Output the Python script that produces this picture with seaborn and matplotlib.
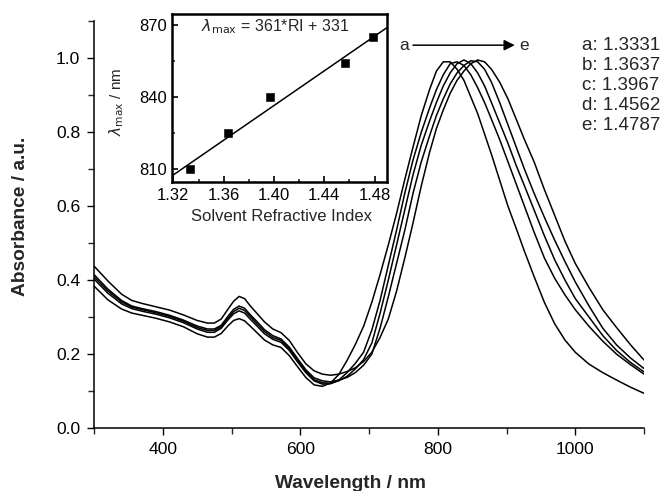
import numpy as np
import pandas as pd
import matplotlib
matplotlib.use("Agg")
import matplotlib.pyplot as plt
import seaborn as sns
from matplotlib.ticker import MultipleLocator, FormatStrFormatter

# spectra (absorbance, a.u.)
wavelength = [300, 320, 340, 355, 370, 390, 410, 430, 450, 465, 475, 485, 495,
              503, 511, 519, 527, 537, 548, 560, 572, 584, 596, 608, 620, 632, 644,
              656, 668, 680, 692, 704, 716, 728, 740, 752, 764, 776, 788, 798,
              808, 818, 828, 838, 848, 858, 868, 878, 890, 902, 914, 926, 940,
              955, 970, 985, 1000, 1020, 1040, 1060, 1080, 1100]

abs_a = [.384, .347, .322, .311, .305, .297, .287, .274, .255, .246, .246, .256, .277,
         .291, .296, .290, .276, .258, .238, .225, .218, .196, .166, .137, .117, .113, .122,
         .145, .183, .226, .275, .34, .415, .495, .58, .672, .76, .845, .915, .965,
         .99, .99, .97, .94, .895, .85, .795, .74, .67, .60, .54, .478, .41,
         .34, .282, .238, .205, .173, .15, .13, .111, .094]
abs_b = [.403, .365, .336, .323, .316, .308, .298, .285, .268, .259, .259, .270, .293,
         .309, .317, .311, .295, .276, .255, .240, .232, .210, .179, .150, .128, .119, .120,
         .13, .15, .175, .205, .265, .345, .44, .535, .635, .725, .80, .865, .915,
         .955, .985, .99, .98, .955, .92, .88, .835, .78, .72, .66, .60, .53,
         .46, .405, .36, .32, .275, .235, .20, .172, .146]
abs_c = [.409, .371, .341, .327, .320, .312, .302, .289, .272, .264, .264, .274, .298,
         .315, .324, .318, .302, .282, .261, .245, .237, .215, .184, .154, .131, .123, .121,
         .128, .14, .16, .185, .23, .31, .40, .495, .59, .685, .765, .83, .88,
         .925, .96, .985, .995, .985, .96, .925, .88, .825, .77, .71, .655, .59,
         .52, .455, .40, .35, .30, .25, .21, .178, .152]
abs_d = [.415, .376, .345, .330, .323, .315, .305, .292, .276, .268, .268, .278, .303,
         .321, .330, .324, .307, .288, .266, .250, .241, .219, .188, .158, .136, .128, .125,
         .13, .137, .15, .17, .20, .27, .355, .445, .535, .635, .72, .79, .845,
         .89, .93, .96, .98, .993, .99, .97, .935, .88, .82, .76, .70, .635,
         .57, .508, .45, .395, .33, .27, .225, .19, .161]
abs_e = [.438, .398, .362, .345, .337, .328, .319, .306, .291, .284, .284, .295, .322,
         .343, .356, .350, .331, .310, .287, .268, .258, .237, .204, .174, .155, .146, .143,
         .146, .153, .163, .18, .205, .245, .295, .37, .46, .555, .655, .745, .81,
         .86, .905, .94, .965, .985, .995, .99, .97, .935, .89, .835, .78, .72,
         .645, .575, .505, .445, .38, .32, .272, .226, .184]

sample_labels = ['a', 'b', 'c', 'd', 'e']
refractive_index = [1.3331, 1.3637, 1.3967, 1.4562, 1.4787]

# inset: peak position vs solvent refractive index
lambda_max = [810, 825, 840, 854, 865]
fit_slope = 361
fit_intercept = 331

rows = []
for lab, ys in zip(sample_labels, [abs_a, abs_b, abs_c, abs_d, abs_e]):
    for w, y in zip(wavelength, ys):
        rows.append({'wavelength': w, 'absorbance': y, 'sample': lab})
spectra = pd.DataFrame(rows)

sns.set_theme(style="ticks")
plt.rcParams['font.family'] = ['Liberation Sans', 'DejaVu Sans']
plt.rcParams['mathtext.fontset'] = 'dejavusans'

fig = plt.figure(figsize=(6.67, 4.91), dpi=100)
ax = fig.add_axes([0.141, 0.128, 0.8246, 0.829])

sns.lineplot(data=spectra, x='wavelength', y='absorbance', units='sample',
             estimator=None, color='black', linewidth=1.1, ax=ax)

ax.set_xlim(300, 1100)
ax.set_ylim(0, 1.1)
ax.xaxis.set_major_locator(MultipleLocator(200))
ax.xaxis.set_minor_locator(MultipleLocator(100))
ax.yaxis.set_major_locator(MultipleLocator(0.2))
ax.yaxis.set_minor_locator(MultipleLocator(0.1))
ax.yaxis.set_major_formatter(FormatStrFormatter('%.1f'))
ax.tick_params(which='major', direction='out', length=5, width=1, labelsize=12.6,
               colors='black', pad=5)
ax.tick_params(which='minor', direction='out', length=4, width=1)
sns.despine(ax=ax)
for s in ['left', 'bottom']:
    ax.spines[s].set_color('black')
    ax.spines[s].set_linewidth(1.1)

ax.set_xlabel('Wavelength / nm', fontsize=13.8, fontweight='bold')
ax.set_ylabel('Absorbance / a.u.', fontsize=13.8, fontweight='bold')
ax.xaxis.set_label_coords(0.467, -0.115)
ax.yaxis.set_label_coords(-0.118, 0.52)

# a -> e arrow
ax.text(751, 1.035, 'a', fontsize=12.5, ha='center', va='center')
ax.annotate('', xy=(912, 1.035), xytext=(764, 1.035),
            arrowprops=dict(arrowstyle='-|>', color='black', lw=1.1,
                            mutation_scale=16, shrinkA=0, shrinkB=0))
ax.text(918, 1.035, 'e', fontsize=12.5, ha='left', va='center')

legend_y = [1.035, 0.981, 0.927, 0.873, 0.819]
for lab, ri, yy in zip(sample_labels, refractive_index, legend_y):
    ax.text(1010, yy, f'{lab}: {ri:.4f}', fontsize=13.5, ha='left', va='center')

# inset
ins = fig.add_axes([0.258, 0.629, 0.3225, 0.3425])
sns.scatterplot(x=refractive_index, y=lambda_max, marker='s', s=28,
                color='black', edgecolor='black', ax=ins)
ri_line = np.array([1.319, 1.490])
sns.lineplot(x=ri_line, y=fit_slope * ri_line + fit_intercept, color='black',
             linewidth=1.1, ax=ins)
ins.set_xlim(1.319, 1.490)
ins.set_ylim(804.5, 874.5)
ins.xaxis.set_major_locator(MultipleLocator(0.04))
ins.xaxis.set_minor_locator(MultipleLocator(0.02))
ins.xaxis.set_major_formatter(FormatStrFormatter('%.2f'))
ins.yaxis.set_major_locator(MultipleLocator(30))
ins.yaxis.set_minor_locator(MultipleLocator(15))
ins.tick_params(which='major', direction='in', length=4, width=1.2, labelsize=12,
                colors='black', pad=4)
ins.tick_params(which='minor', direction='in', length=2.5, width=1.2)
for s in ins.spines.values():
    s.set_color('black')
    s.set_linewidth(1.8)
ins.set_xlabel('Solvent Refractive Index', fontsize=12)
ins.set_ylabel(r'$\lambda_{\mathrm{max}}$ / nm', fontsize=11)
ins.xaxis.set_label_coords(0.507, -0.16)
ins.yaxis.set_label_coords(-0.215, 0.478)
ins.text(0.479, 0.923, r'$\lambda_{\mathrm{max}}$ = 361*RI + 331', fontsize=11.5,
         ha='center', va='center', transform=ins.transAxes)

fig.savefig('out.png', dpi=100)
